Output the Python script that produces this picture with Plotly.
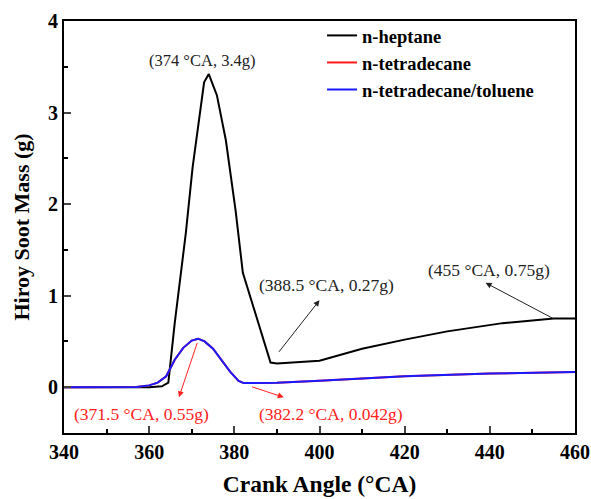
import plotly.graph_objects as go

# Data
heptane_x = [340, 350, 360, 363, 364.5, 366, 368.6, 370.2, 372.9, 374, 375.9, 378, 380.3, 382, 385, 388.5, 390, 400, 410, 420, 430, 443, 450, 455, 460]
heptane_y = [0, 0, 0, 0.01, 0.05, 0.7, 1.68, 2.4, 3.33, 3.42, 3.19, 2.7, 1.93, 1.25, 0.8, 0.27, 0.26, 0.29, 0.42, 0.52, 0.61, 0.70, 0.73, 0.75, 0.75]

tetra_x = [340, 350, 357, 360, 362, 364, 366, 368, 370, 371.5, 373, 375, 377, 379, 381, 382.2, 390, 400, 420, 440, 460]
tetra_y = [0, 0, 0.002, 0.02, 0.05, 0.12, 0.3, 0.43, 0.51, 0.53, 0.5, 0.42, 0.3, 0.17, 0.07, 0.045, 0.05, 0.07, 0.12, 0.15, 0.165]

toluene_x = [340, 350, 357, 360, 362, 364, 366, 368, 370, 371.5, 373, 375, 377, 379, 381, 382.2, 390, 400, 420, 440, 460]
toluene_y = [0, 0, 0.002, 0.02, 0.05, 0.12, 0.3, 0.43, 0.51, 0.53, 0.5, 0.42, 0.3, 0.17, 0.07, 0.045, 0.05, 0.07, 0.12, 0.15, 0.165]

series_names = ["n-heptane", "n-tetradecane", "n-tetradecane/toluene"]
x_ticks = [340, 360, 380, 400, 420, 440, 460]
y_ticks = [0, 1, 2, 3, 4]

FONT = "Liberation Serif, Times New Roman, serif"

fig = go.Figure()
fig.add_trace(go.Scatter(x=heptane_x, y=heptane_y, mode="lines", name=series_names[0],
                         line=dict(color="black", width=2)))
fig.add_trace(go.Scatter(x=tetra_x, y=tetra_y, mode="lines", name=series_names[1],
                         line=dict(color="#ff1a1a", width=2)))
fig.add_trace(go.Scatter(x=toluene_x, y=toluene_y, mode="lines", name=series_names[2],
                         line=dict(color="#1a1aff", width=2)))

# Text annotations
texts = [
    dict(x=372.6, y=3.57, text="(374 °CA, 3.4g)", color="#222", size=16.5),
    dict(x=401.6, y=1.115, text="(388.5 °CA, 0.27g)", color="#222", size=17.5),
    dict(x=439.9, y=1.28, text="(455 °CA, 0.75g)", color="#222", size=17.5),
    dict(x=358.1, y=-0.29, text="(371.5 °CA, 0.55g)", color="#ff2020", size=17.5),
    dict(x=402.6, y=-0.29, text="(382.2 °CA, 0.042g)", color="#ff2020", size=17.5),
]
for t in texts:
    fig.add_annotation(x=t["x"], y=t["y"], text=t["text"], showarrow=False,
                       font=dict(family=FONT, size=t["size"], color=t["color"]))

# Arrows (tail -> head)
arrows = [
    dict(tx=390.2, ty=0.37, hx=400, hy=0.95, color="#222"),
    dict(tx=455.3, ty=0.74, hx=439, hy=1.14, color="#222"),
    dict(tx=371.4, ty=0.50, hx=367, hy=-0.11, color="#ff2020"),
    dict(tx=383.8, ty=0.01, hx=391.6, hy=-0.11, color="#ff2020"),
]
for a in arrows:
    fig.add_annotation(x=a["hx"], y=a["hy"], ax=a["tx"], ay=a["ty"],
                       xref="x", yref="y", axref="x", ayref="y",
                       text="", showarrow=True, arrowhead=2, arrowsize=1.2,
                       arrowwidth=1, arrowcolor=a["color"])

fig.update_xaxes(range=[340, 460], tickvals=x_ticks, ticks="inside", ticklen=7, tickwidth=2,
                 minor=dict(dtick=10, ticks="inside", ticklen=4, tickwidth=2, tickcolor="black"),
                 showline=True, linewidth=2, linecolor="black", mirror=True,
                 showgrid=False, zeroline=False, ticklabelstandoff=0, automargin=False,
                 tickfont=dict(family=FONT, size=20, color="black", weight="bold"),
                 title=dict(text="Crank Angle (°CA)", standoff=14,
                            font=dict(family=FONT, size=23.5, color="black", weight="bold")))
fig.update_yaxes(range=[-0.5, 4], tickvals=y_ticks, ticks="inside", ticklen=7, tickwidth=2,
                 minor=dict(dtick=0.5, ticks="inside", ticklen=4, tickwidth=2, tickcolor="black"),
                 showline=True, linewidth=2, linecolor="black", mirror=True,
                 showgrid=False, zeroline=False, automargin=False,
                 tickfont=dict(family=FONT, size=20, color="black", weight="bold"),
                 title=dict(text="Hiroy Soot Mass (g)", standoff=12,
                            font=dict(family=FONT, size=22, color="black", weight="bold")))

fig.update_layout(
    width=591, height=499,
    margin=dict(l=64, r=16, t=21, b=66),
    plot_bgcolor="white", paper_bgcolor="white",
    showlegend=True,
    legend=dict(x=0.505, y=1.01, xanchor="left", yanchor="top",
                bgcolor="rgba(0,0,0,0)", tracegroupgap=0, itemwidth=30,
                font=dict(family=FONT, size=18.5, color="black", weight="bold")),
)

fig.write_html("out.html")
